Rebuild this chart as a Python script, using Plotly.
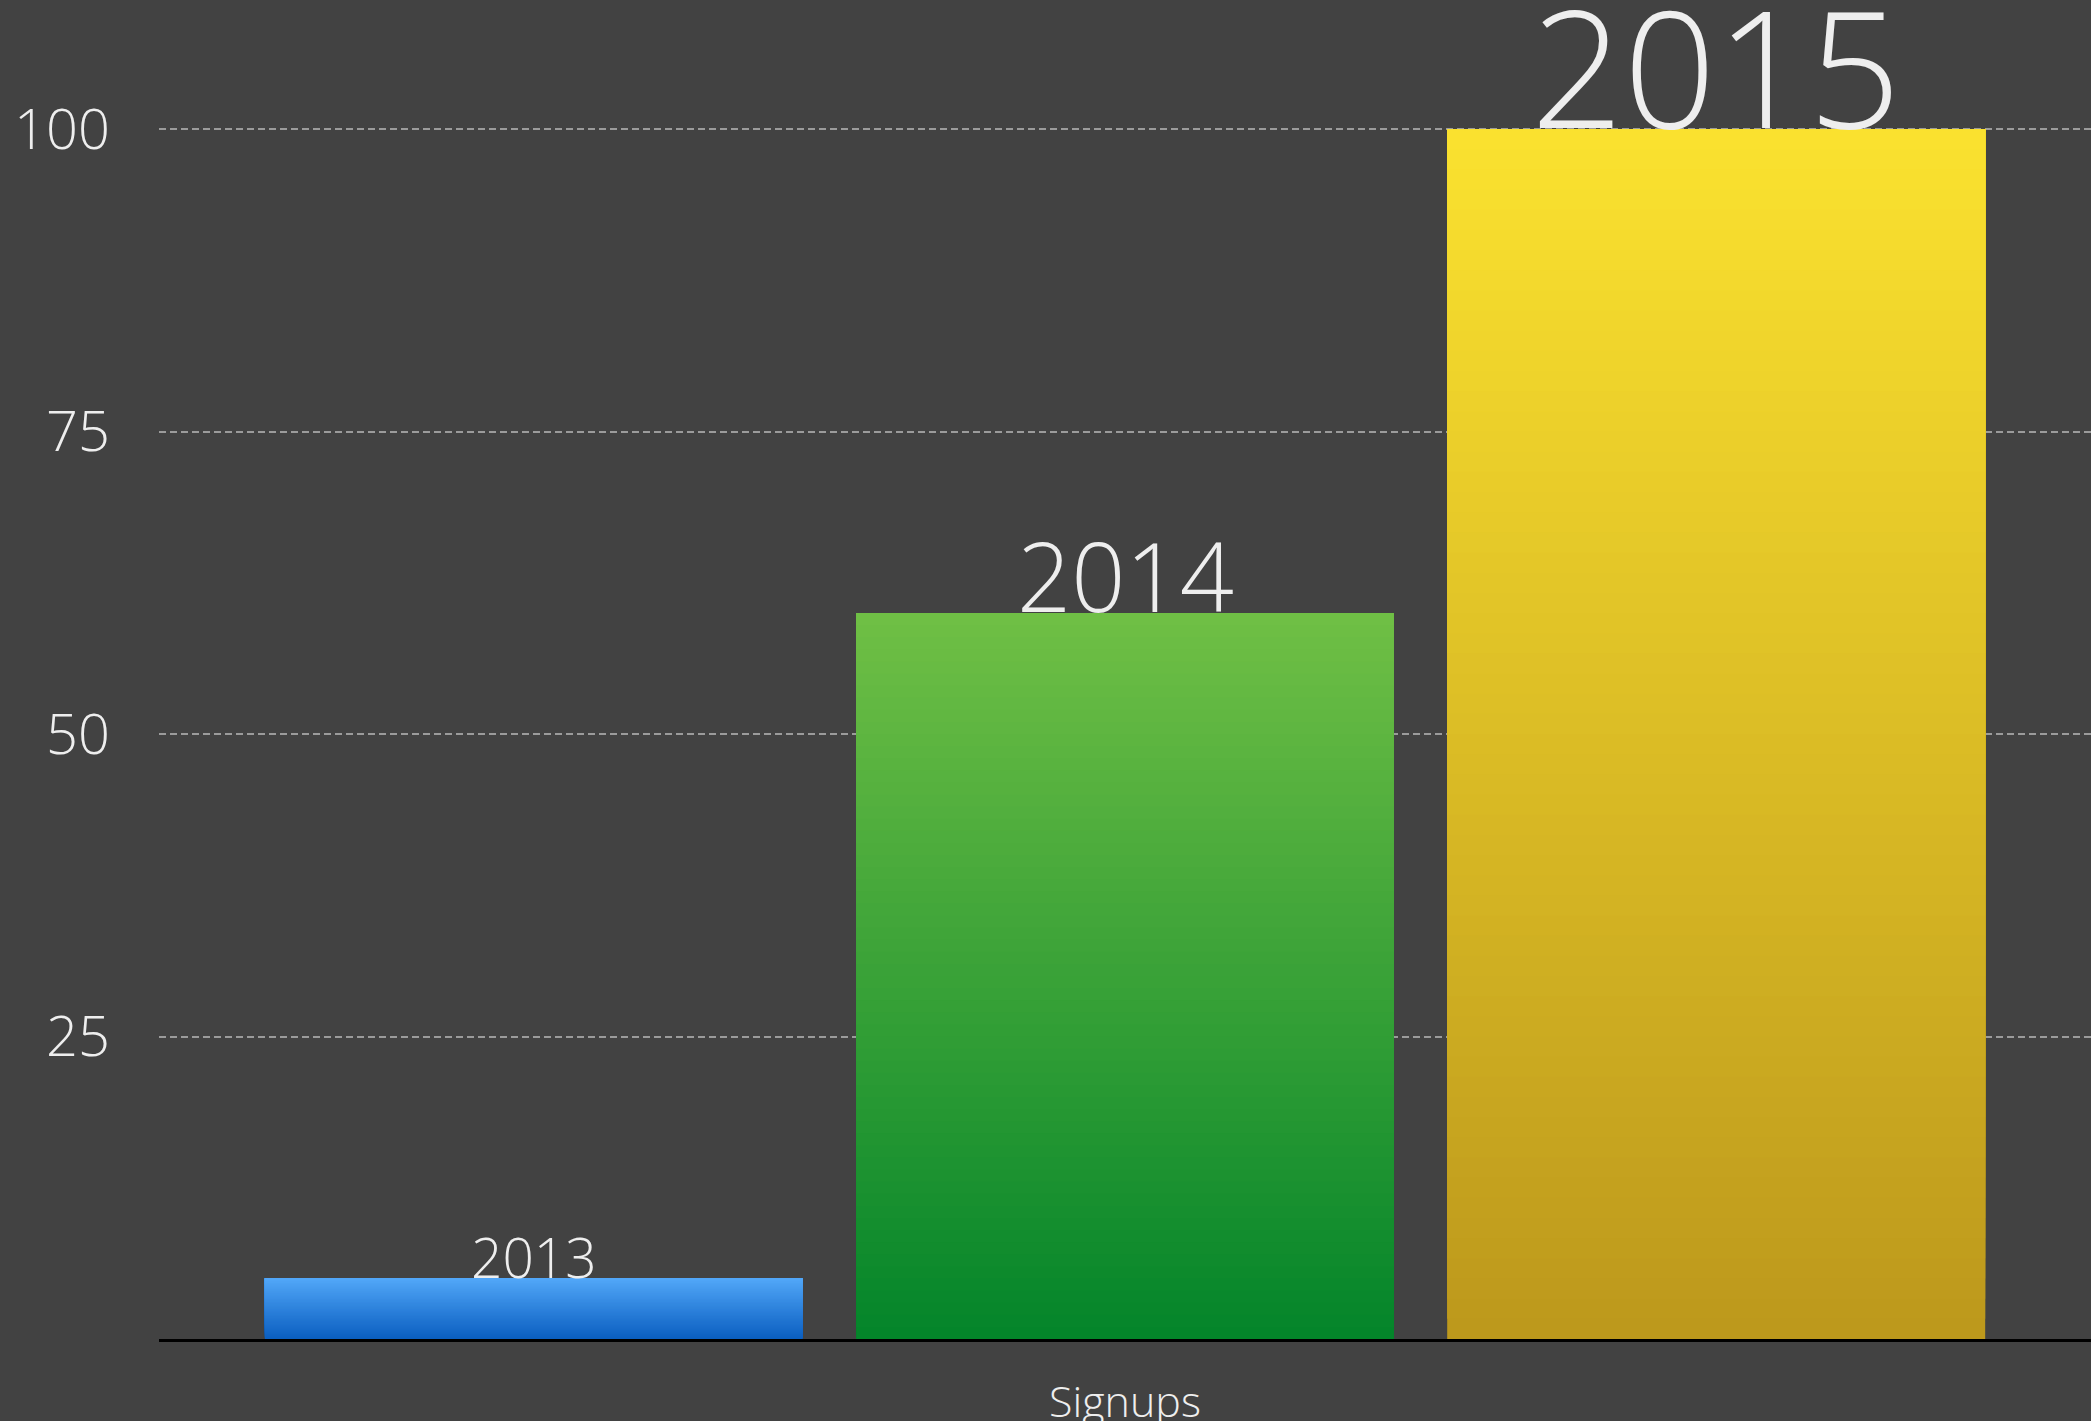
import plotly.graph_objects as go

# ---- data ----
categories = ["Signups"]
years = ["2013", "2014", "2015"]
values = [5, 60, 100]
y_ticks = [25, 50, 75, 100]

# ---- styles ----
gradients = {  # (top colour, bottom colour)
    "2013": ("#52a7f8", "#0a5ec0"),
    "2014": ("#70bf45", "#03852a"),
    "2015": ("#fbe22f", "#bc981c"),
}
label_sizes = {"2013": 55, "2014": 95, "2015": 162}
BG = "#424242"
TEXT = "#eeeeee"
FONT = "Open Sans"
N_SLICES = 60
BARGAP = 0.082
BARGROUPGAP = 0.09
DESCENT = 0.293
Y_MAX = 100.25


def hex2rgb(h):
    h = h.lstrip("#")
    return [int(h[i:i + 2], 16) for i in (0, 2, 4)]


def mix(c_bottom, c_top, t):
    a, b = hex2rgb(c_bottom), hex2rgb(c_top)
    r = [round(a[i] + (b[i] - a[i]) * t) for i in range(3)]
    return "rgb(%d,%d,%d)" % tuple(r)


fig = go.Figure()

# gradient bars: each bar is layered from overlapping pieces that all end at
# the bar's value; each higher piece starts a little higher with a lighter colour
for yr, val in zip(years, values):
    top, bottom = gradients[yr]
    step = val / N_SLICES
    for k in range(N_SLICES):
        t = (k + 0.5) / N_SLICES
        fig.add_trace(go.Bar(
            x=categories,
            y=[val - k * step],
            base=[k * step],
            offsetgroup=yr,
            marker=dict(color=mix(bottom, top, t), line=dict(width=0)),
            showlegend=False,
            hoverinfo="skip",
        ))

# value labels (year names) sitting on top of each bar
n = len(years)
slot = (1 - BARGAP) / n
for i, (yr, val) in enumerate(zip(years, values)):
    size = label_sizes[yr]
    fig.add_annotation(
        x=(i - (n - 1) / 2) * slot,
        y=val,
        xref="x", yref="y",
        text=yr,
        showarrow=False,
        xanchor="center", yanchor="bottom",
        yshift=-(DESCENT * size + 1),
        font=dict(family=FONT, size=size, color=TEXT, weight=300),
    )

fig.update_layout(
    width=2091, height=1421,
    margin=dict(l=159, r=0, t=126, b=82, autoexpand=False),
    paper_bgcolor=BG, plot_bgcolor=BG,
    barmode="group",
    bargap=BARGAP, bargroupgap=BARGROUPGAP,
    showlegend=False,
    font=dict(family=FONT, color=TEXT, weight=300),
)

fig.update_yaxes(
    range=[0, Y_MAX],
    tickvals=y_ticks,
    showgrid=True, gridcolor="#9b9b9b", gridwidth=2, griddash="7px,4px",
    zeroline=False, showline=False, ticks="",
    tickfont=dict(family=FONT, size=56, color=TEXT, weight=300),
    ticklabelstandoff=48,
    automargin=False,
)
fig.update_xaxes(
    showline=True, linecolor="#000000", linewidth=3,
    showgrid=False, ticks="",
    tickfont=dict(family=FONT, size=43, color=TEXT, weight=300),
    ticklabelstandoff=23,
    automargin=False,
)

fig.write_html(
    "out.html",
    config={"displayModeBar": False},
    post_script="document.body.style.margin='0';document.body.style.overflow='hidden';",
)
